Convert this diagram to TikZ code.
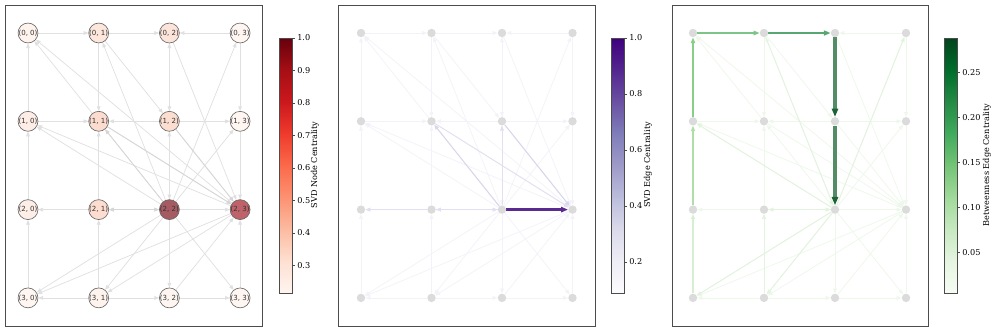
\documentclass[tikz,border=0pt]{standalone}
\usepackage{fontspec}
\setmainfont{DejaVu Serif}
\newfontfamily\lblfont{DejaVu Sans}
\usetikzlibrary{arrows.meta,backgrounds}

%% colour maps (Reds, Purples, Greens)
\definecolor{rd0}{HTML}{FFF5F0}\definecolor{rd1}{HTML}{FEE0D2}\definecolor{rd2}{HTML}{FCBBA1}
\definecolor{rd3}{HTML}{FC9272}\definecolor{rd4}{HTML}{FB6A4A}\definecolor{rd5}{HTML}{EF3B2C}
\definecolor{rd6}{HTML}{CB181D}\definecolor{rd7}{HTML}{A50F15}\definecolor{rd8}{HTML}{67000D}
\definecolor{pu0}{HTML}{FCFBFD}\definecolor{pu1}{HTML}{EFEDF5}\definecolor{pu2}{HTML}{DADAEB}
\definecolor{pu3}{HTML}{BCBDDC}\definecolor{pu4}{HTML}{9E9AC8}\definecolor{pu5}{HTML}{807DBA}
\definecolor{pu6}{HTML}{6A51A3}\definecolor{pu7}{HTML}{54278F}\definecolor{pu8}{HTML}{3F007D}
\definecolor{gn0}{HTML}{F7FCF5}\definecolor{gn1}{HTML}{E5F5E0}\definecolor{gn2}{HTML}{C7E9C0}
\definecolor{gn3}{HTML}{A1D99B}\definecolor{gn4}{HTML}{74C476}\definecolor{gn5}{HTML}{41AB5D}
\definecolor{gn6}{HTML}{238B45}\definecolor{gn7}{HTML}{006D2C}\definecolor{gn8}{HTML}{00441B}

%% node fills of the first panel
\definecolor{nd00}{HTML}{FFF3EE}\definecolor{nd01}{HTML}{FDE6DC}\definecolor{nd02}{HTML}{FDE4DA}\definecolor{nd03}{HTML}{FFF5F1}
\definecolor{nd10}{HTML}{FEEDE6}\definecolor{nd11}{HTML}{FCDCCF}\definecolor{nd12}{HTML}{FCDED1}\definecolor{nd13}{HTML}{FFF5F1}
\definecolor{nd20}{HTML}{FEEEE8}\definecolor{nd21}{HTML}{FCDDD0}\definecolor{nd22}{HTML}{A65A62}\definecolor{nd23}{HTML}{C0626A}
\definecolor{nd30}{HTML}{FFF6F2}\definecolor{nd31}{HTML}{FFF3EE}\definecolor{nd32}{HTML}{FFF6F2}\definecolor{nd33}{HTML}{FFF6F2}

%% edge colours of the second and third panel
\definecolor{puf}{HTML}{F3F2F9}\definecolor{pum}{HTML}{E2E0F0}\definecolor{pud}{HTML}{D8D6EA}\definecolor{pux}{HTML}{5B2A91}
\definecolor{gnf}{HTML}{EDF8EA}\definecolor{gnm}{HTML}{E2F3DE}
\definecolor{gp1}{HTML}{D6EFD0}\definecolor{gp2}{HTML}{B0DEA9}\definecolor{gp3}{HTML}{88CD88}
\definecolor{gp4}{HTML}{7CC487}\definecolor{gp5}{HTML}{58A773}\definecolor{gp6}{HTML}{548C68}
\definecolor{gp6tip}{HTML}{1E6237}

\begin{document}
\begin{tikzpicture}[
    x=0.025cm, y=-0.025cm,
    >={Triangle[length=3.4pt,width=2.6pt]},
    frame/.style={draw=black!70, line width=0.6pt},
    cbar/.style={draw=black!70, line width=0.5pt},
    cbtick/.style={font=\fontsize{5.8}{6.5}\selectfont, anchor=west, inner sep=0pt},
    cblabel/.style={font=\fontsize{5.8}{6.5}\selectfont, rotate=90, inner sep=0pt},
    rnode/.style={circle, draw=black!60, line width=0.45pt, minimum size=0.43cm,
                  inner sep=0pt, font=\lblfont\fontsize{5}{5}\selectfont, text=black!80},
    gnode/.style={circle, fill=black!14, minimum size=0.21cm, inner sep=0pt},
    pedge/.style={->, draw=black!12, line width=0.5pt},
    pdark/.style={->, draw=black!16, line width=0.55pt},
    uedge/.style={->, draw=puf, line width=0.5pt},
    gedge/.style={->, draw=gnf, line width=0.5pt},
    hot/.style={->, line width=#1,
                >={Triangle[length=1.2*#1+2.4pt,width=1.0*#1+1.6pt]}},
  ]
  \useasboundingbox (0,0) rectangle (996,332);

  %% ===== panel frames =====
  \begin{scope}[on background layer]
    \fill[white] (0,0) rectangle (996,332);
    \draw[frame] (5,5) rectangle (262,326);
    \draw[frame] (338,5) rectangle (595,326);
    \draw[frame] (672,5) rectangle (928,326);
  \end{scope}

  %% ===== nodes (row r, column c) =====
  \foreach \r in {0,...,3} {
    \foreach \c in {0,...,3} {
      \node[rnode, fill=nd\r\c] (a\r\c) at ({28+70.7*\c},{33+88.3*\r}) {(\r, \c)};
      \node[gnode] (b\r\c) at ({361+70.5*\c},{33+88.3*\r}) {};
      \node[gnode] (c\r\c) at ({693+71*\c},{33+88.3*\r}) {};
    }
  }

  %% ===== edges =====
  \begin{scope}[on background layer]
    \foreach \s/\t in {00/01, 01/02, 03/02, 10/11, 12/11, 12/13, 21/20, 22/21, 21/22,
                       22/23, 31/30, 31/32, 32/33, 10/00, 20/10, 30/20, 01/11, 21/11,
                       31/21, 02/12, 12/02, 12/22, 22/12, 22/32, 03/13, 13/23, 33/23,
                       11/00, 23/00, 22/01, 01/12, 02/23, 22/03, 22/13, 12/23, 22/11,
                       11/23, 22/10, 23/10, 22/30, 23/30, 22/31, 23/31, 32/23, 22/33} {
      \draw[pedge] (a\s) -- (a\t);
      \draw[uedge] (b\s) -- (b\t);
      \draw[gedge] (c\s) -- (c\t);
    }

    %% SVD node panel: a few darker lines
    \foreach \s/\t in {22/11, 12/23, 11/23, 22/21, 21/22}
      \draw[pdark] (a\s) -- (a\t);

    %% SVD edge panel
    \foreach \s/\t in {21/20, 22/21, 21/22, 22/12, 11/23}
      \draw[->, draw=pum, line width=0.6pt] (b\s) -- (b\t);
    \foreach \s/\t in {22/11, 12/23}
      \draw[->, draw=pud, line width=0.7pt] (b\s) -- (b\t);
    \draw[hot=2.1pt, draw=pux] (b22) -- (b23);

    %% betweenness panel
    \foreach \s/\t in {21/22, 22/21, 31/21, 22/30, 22/31, 22/03, 22/10, 01/22}
      \draw[->, draw=gnm, line width=0.6pt] (c\s) -- (c\t);
    \draw[hot=0.85pt, draw=gp1] (c30) -- (c20);
    \draw[hot=1.1pt, draw=gp2] (c20) -- (c10);
    \draw[hot=1.4pt, draw=gp3] (c10) -- (c00);
    \draw[hot=1.5pt, draw=gp4] (c00) -- (c01);
    \draw[hot=1.9pt, draw=gp5] (c01) -- (c02);
    \draw[hot=2.8pt, draw=gp6, -{Triangle[length=5.8pt,width=4.4pt,color=gp6tip]}] (c02) -- (c12);
    \draw[hot=2.8pt, draw=gp6, -{Triangle[length=5.8pt,width=4.4pt,color=gp6tip]}] (c12) -- (c22);
  \end{scope}

  %% ===== colour bars =====
  \foreach \i [evaluate=\i as \j using int(\i+1)] in {0,...,7} {
    \shade[bottom color=rd\i, top color=rd\j] (279,{293-31.875*\i+0.3}) rectangle (292,{293-31.875*\j});
    \shade[bottom color=pu\i, top color=pu\j] (611,{293-31.875*\i+0.3}) rectangle (624,{293-31.875*\j});
    \shade[bottom color=gn\i, top color=gn\j] (944,{293-31.875*\i+0.3}) rectangle (957,{293-31.875*\j});
  }
  \draw[cbar] (279,38) rectangle (292,293);
  \draw[cbar] (611,38) rectangle (624,293);
  \draw[cbar] (944,38) rectangle (957,293);

  \foreach \y/\l [count=\k] in {38/1.0, 70.5/0.9, 103/0.8, 135.5/0.7, 168/0.6, 200.5/0.5, 233/0.4, 265.5/0.3} {
    \draw[cbar] (292,\y) -- (295,\y);
    \node[cbtick] (ta\k) at (297,\y) {\l};
  }
  \foreach \y/\l [count=\k] in {38/1.0, 94/0.8, 150/0.6, 206/0.4, 262/0.2} {
    \draw[cbar] (624,\y) -- (627,\y);
    \node[cbtick] (tb\k) at (629,\y) {\l};
  }
  \foreach \y/\l [count=\k] in {72.3/0.25, 117.3/0.20, 162.3/0.15, 207.3/0.10, 252.3/0.05} {
    \draw[cbar] (957,\y) -- (960,\y);
    \node[cbtick] (tc\k) at (962,\y) {\l};
  }

  \node[cblabel] (la) at (315,165) {SVD Node Centrality};
  \node[cblabel] (lb) at (648,165) {SVD Edge Centrality};
  \node[cblabel] (lc) at (987,165) {Betweenness Edge Centrality};
\end{tikzpicture}
\end{document}
